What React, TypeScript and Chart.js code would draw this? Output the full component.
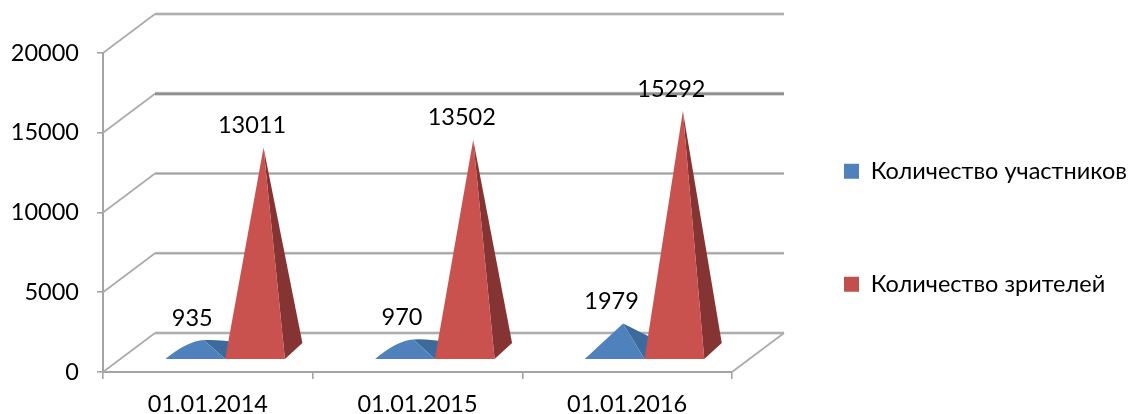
import React, { useEffect, useRef } from "react";
import { Chart, registerables } from "chart.js";

Chart.register(...registerables);

const categories = ["01.01.2014", "01.01.2015", "01.01.2016"];
const participants = [935, 970, 1979];
const spectators = [13011, 13502, 15292];
const seriesNames = ["Количество участников", "Количество зрителей"];
const yTicks = [0, 5000, 10000, 15000, 20000];

const FONT = "Lato, 'Open Sans', sans-serif";
const FONT_SIZE = 23.5;
const DEPTH_X = 52;
const DEPTH_Y = 39;

const faces = [
  { front: "#4f81bd", side: "#3d6a9c" },
  { front: "#c9524f", side: "#853333" },
];

const pyramidPlugin = {
  id: "pyramid3d",
  afterLayout(chart: any) {
    const legend = chart.legend;
    legend.left = 754.5;
    legend.right = 1131;
    legend.width = 1131 - 754.5;
    legend.top = 70;
    legend.bottom = 414;
    legend.height = 344;
  },
  beforeDatasetsDraw(chart: any) {
    const { ctx, scales } = chart;
    const { x, y } = scales;
    const left = x.left;
    const right = x.right;
    const bottom = y.getPixelForValue(0);

    // Side wall diagonals
    yTicks.forEach((v) => {
      const py = y.getPixelForValue(v);
      ctx.save();
      ctx.strokeStyle = "#a9a9a9";
      ctx.lineWidth = 1.6;
      ctx.beginPath();
      ctx.moveTo(left, py);
      ctx.lineTo(left + DEPTH_X, py - DEPTH_Y);
      ctx.stroke();
      ctx.restore();
    });

    // Back wall grid lines
    yTicks.forEach((v) => {
      const py = y.getPixelForValue(v) - DEPTH_Y;
      const heavy = v === 15000;
      ctx.save();
      ctx.strokeStyle = "#cfcfcf";
      ctx.lineWidth = heavy ? 4 : 3;
      ctx.beginPath();
      ctx.moveTo(left + DEPTH_X, py);
      ctx.lineTo(right + DEPTH_X, py);
      ctx.stroke();
      ctx.strokeStyle = heavy ? "#8f8f8f" : "#a3a3a3";
      ctx.lineWidth = heavy ? 2.5 : 1.6;
      ctx.stroke();
      ctx.restore();
    });

    // Right edge of the floor
    ctx.save();
    ctx.strokeStyle = "#a9a9a9";
    ctx.lineWidth = 1.6;
    ctx.beginPath();
    ctx.moveTo(right, bottom);
    ctx.lineTo(right + DEPTH_X, bottom - DEPTH_Y);
    ctx.stroke();
    ctx.restore();

    // Pyramids
    const baseDx = DEPTH_X / 3;
    const baseDy = DEPTH_Y / 3;
    const labels: { text: string; x: number; y: number }[] = [];
    categories.forEach((_, i) => {
      chart.data.datasets.forEach((ds: any, d: number) => {
        const bar = chart.getDatasetMeta(d).data[i];
        const value = ds.data[i];
        const L = bar.x - bar.width / 2 + baseDx;
        const R = bar.x + bar.width / 2 + baseDx;
        const yF = bottom - baseDy;
        const apexX = (L + R) / 2 + 8.5;
        const apexY = y.getPixelForValue(value) - 17;
        const cornerX = R + 17.5;
        const cornerY = yF - 16;
        const rounded = value < 1500;

        ctx.fillStyle = faces[d].side;
        ctx.beginPath();
        ctx.moveTo(R, yF);
        ctx.lineTo(cornerX, cornerY);
        if (rounded) ctx.quadraticCurveTo(apexX + 14, apexY - 1, apexX, apexY);
        else ctx.lineTo(apexX, apexY);
        ctx.closePath();
        ctx.fill();

        ctx.fillStyle = faces[d].front;
        ctx.beginPath();
        ctx.moveTo(L, yF);
        if (rounded) ctx.quadraticCurveTo(L + 22, apexY + 1, apexX, apexY);
        else ctx.lineTo(apexX, apexY);
        ctx.lineTo(R, yF);
        ctx.closePath();
        ctx.fill();

        labels.push({ text: String(value), x: apexX - 11.5, y: apexY - 22 });
      });
    });

    ctx.save();
    ctx.fillStyle = "#000";
    ctx.font = `${FONT_SIZE}px ${FONT}`;
    ctx.textAlign = "center";
    ctx.textBaseline = "middle";
    labels.forEach((l) => ctx.fillText(l.text, l.x, l.y));
    ctx.restore();
    return false;
  },
};

export default function App() {
  const ref = useRef<HTMLCanvasElement>(null);
  useEffect(() => {
    const chart = new Chart(ref.current as HTMLCanvasElement, {
      type: "bar",
      data: {
        labels: categories,
        datasets: [
          { label: seriesNames[0], data: participants, backgroundColor: "#4f81bd", categoryPercentage: 0.57, barPercentage: 1 },
          { label: seriesNames[1], data: spectators, backgroundColor: "#c0504d", categoryPercentage: 0.57, barPercentage: 1 },
        ],
      },
      options: {
        animation: false,
        responsive: false,
        layout: { autoPadding: false, padding: { top: 53, left: 0, right: 399, bottom: 0 } },
        plugins: {
          tooltip: { enabled: false },
          legend: {
            position: "chartArea",
            align: "start",
            labels: {
              boxWidth: 15,
              boxHeight: 15,
              padding: 89.5,
              color: "#000",
              font: { family: FONT, size: FONT_SIZE },
            },
          },
        },
        scales: {
          x: {
            afterFit: (s: any) => { s.height = 42; },
            grid: { drawOnChartArea: false, drawTicks: true, tickLength: 7, color: "#a3a3a3", lineWidth: 1.6 },
            border: { color: "#a3a3a3", width: 2 },
            ticks: { color: "#000", padding: 11, maxRotation: 0, font: { family: FONT, size: FONT_SIZE } },
          },
          y: {
            min: 0,
            max: 20000,
            afterFit: (s: any) => { s.width = 103; },
            afterBuildTicks: (s: any) => { s.ticks = yTicks.map((value) => ({ value })); },
            grid: { drawOnChartArea: false, drawTicks: true, tickLength: 6, color: "#a3a3a3", lineWidth: 1.6 },
            border: { color: "#a3a3a3", width: 2 },
            ticks: { color: "#000", padding: 18, font: { family: FONT, size: FONT_SIZE }, callback: (v: any) => String(v) },
          },
        },
      } as any,
      plugins: [pyramidPlugin as any],
    });
    return () => chart.destroy();
  }, []);
  return (
    <div style={{ position: "fixed", left: 0, top: 0, width: 1131, height: 414, background: "#fff" }}>
      <canvas ref={ref} width={1131} height={414} style={{ display: "block", filter: "blur(0.4px)" }} />
    </div>
  );
}
